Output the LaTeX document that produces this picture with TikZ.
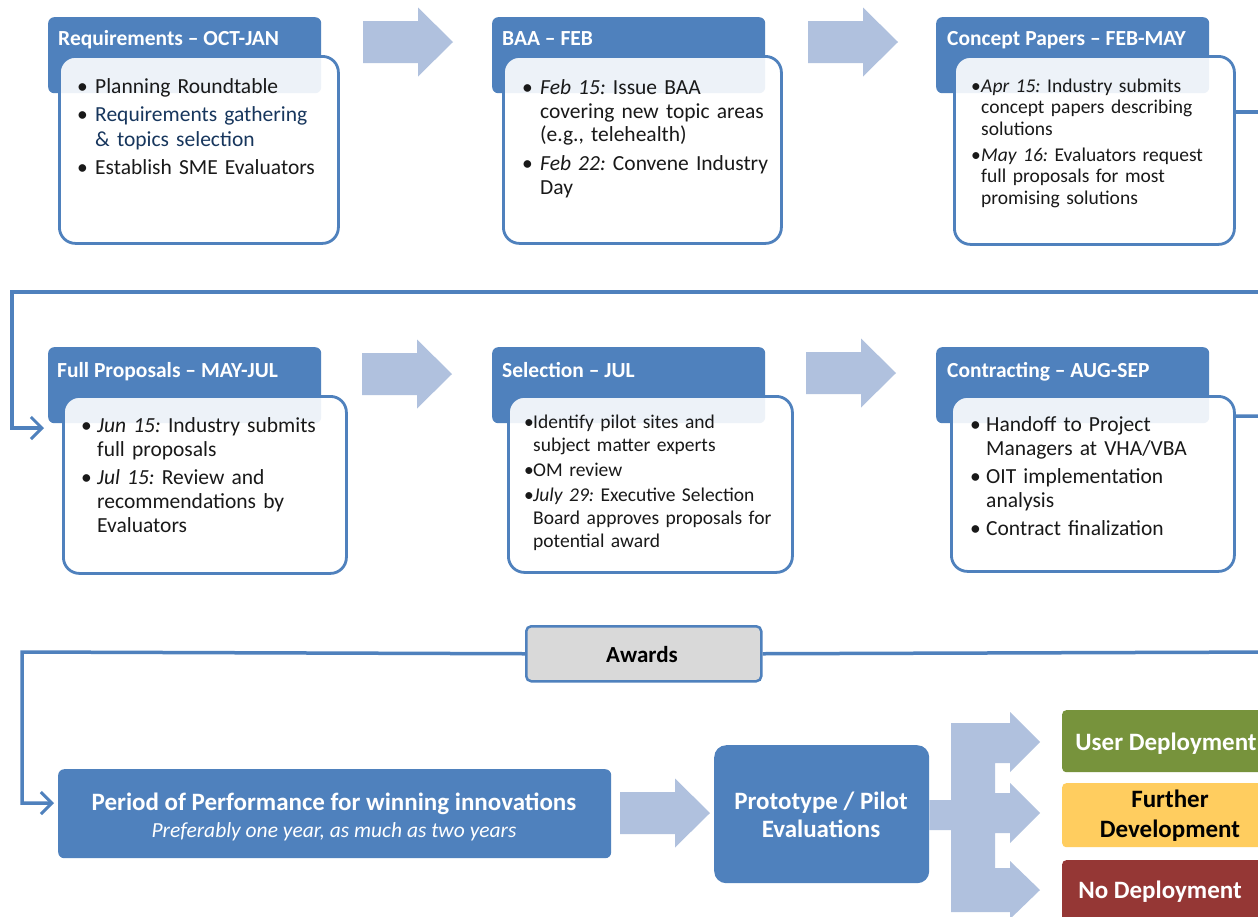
\documentclass[tikz,border=0pt]{standalone}
\usepackage{fontspec}
\setmainfont{Carlito}
\usetikzlibrary{arrows.meta,calc}
\definecolor{hblue}{RGB}{79,129,189}
\definecolor{lblue}{RGB}{176,193,222}
\definecolor{navy}{RGB}{23,54,93}
\definecolor{agray}{RGB}{217,217,217}
\definecolor{ogreen}{RGB}{119,147,60}
\definecolor{oyellow}{RGB}{255,205,95}
\definecolor{ored}{RGB}{149,55,53}
\definecolor{txt}{RGB}{25,25,25}
\newcommand\nl{\hfil\break}
\newcommand\bitem[2][18pt]{\par\hangindent=#1\hangafter=1\noindent\makebox[#1][l]{\strut\textbullet}#2}
\newcommand\barrow[2]{%
  \fill[lblue] (#1,{#2-21}) -- ({#1+55},{#2-21}) -- ({#1+55},{#2-34.5}) -- ({#1+90},#2)
    -- ({#1+55},{#2+34.5}) -- ({#1+55},{#2+21}) -- (#1,{#2+21}) -- cycle;}
\frenchspacing
\begin{document}
\begin{tikzpicture}[x=1pt,y=-1pt,
  hdr/.style={fill=hblue, rounded corners=6pt, minimum width=273pt, minimum height=76pt, anchor=north west, inner sep=0pt},
  hdrtext/.style={anchor=base west, text=white, font=\fontsize{21.5}{24}\selectfont\bfseries, inner sep=0pt},
  bodybox/.style={draw=hblue, line width=2.8pt, fill=white, fill opacity=0.9, rounded corners=16pt, anchor=north west, inner sep=0pt},
  btext/.style={anchor=north west, inner sep=0pt, text width=300pt, text=txt},
  bigfont/.style={font=\fontsize{21.5}{24}\selectfont\frenchspacing},
  smallfont/.style={font=\fontsize{19.5}{22}\selectfont\frenchspacing},
  conn/.style={draw=hblue, line width=3.5pt},
  tip/.style={-{Straight Barb[length=11pt,width=22pt,line width=3pt]}},
  solid box/.style={rounded corners=6pt, inner sep=0pt, anchor=north west},
  wtext/.style={text=white, font=\fontsize{25}{28}\selectfont\bfseries, inner sep=0pt, align=center},
]
\useasboundingbox (0,0) rectangle (1258,916);
\clip (0,0) rectangle (1258,916);
\fill[white] (0,0) rectangle (1258,916);

\coordinate (r1) at (1280,292);
\coordinate (r2) at (1280,652);

% ---------- row 1 ----------
\node[hdr] (h1) at (48,17) {};
\node[hdrtext] at (58,45) {Requirements \textendash{} OCT-JAN};
\node[bodybox, minimum width=279pt, minimum height=187pt] (b1) at (58,55) {};
\node[btext, bigfont] at (77,65) {\raggedright\setlength{\baselineskip}{25.5pt}\setlength{\parskip}{2.5pt}%
\bitem{Planning Roundtable}%
\bitem{{\color{navy}Requirements gathering\nl \& topics selection}}%
\bitem{Establish SME Evaluators}\par};

\barrow{363}{42}

\node[hdr] (h2) at (492,17) {};
\node[hdrtext] at (502,45) {BAA \textendash{} FEB};
\node[bodybox, minimum width=278pt, minimum height=187pt] (b2) at (502,55) {};
\node[btext, bigfont] at (522,65.5) {\raggedright\setlength{\baselineskip}{23.5pt}\setlength{\parskip}{5.5pt}%
\bitem{\textit{Feb 15:} Issue BAA\nl covering new topic areas\nl (e.g., telehealth)}%
\bitem{\textit{Feb 22:} Convene Industry\nl Day}\par};

\barrow{808}{42}

\node[hdr] (h3) at (936,17) {};
\node[hdrtext] at (947,45) {Concept Papers \textendash{} FEB-MAY};
\node[bodybox, minimum width=280pt, minimum height=188pt] (b3) at (953,55) {};
\node[btext, smallfont] at (971,66) {\raggedright\setlength{\baselineskip}{21.5pt}\setlength{\parskip}{4.5pt}%
\bitem[10pt]{\textit{Apr 15:} Industry submits\nl concept papers describing\nl solutions}%
\bitem[10pt]{\textit{May 16:} Evaluators request\nl full proposals for most\nl promising solutions}\par};

% ---------- row 2 ----------
\node[hdr] (h4) at (48,347) {};
\node[hdrtext] at (57,377) {Full Proposals \textendash{} MAY-JUL};
\node[bodybox, minimum width=283pt, minimum height=177pt] (b4) at (62,395) {};
\node[btext, bigfont] at (81,404) {\raggedright\setlength{\baselineskip}{24pt}\setlength{\parskip}{4pt}%
\bitem[16pt]{\textit{Jun 15:} Industry submits\nl full proposals}%
\bitem[16pt]{\textit{Jul 15:} Review and\nl recommendations by\nl Evaluators}\par};

\barrow{362}{374}

\node[hdr] (h5) at (492,347) {};
\node[hdrtext] at (502,377) {Selection \textendash{} JUL};
\node[bodybox, minimum width=284pt, minimum height=176pt] (b5) at (507,395) {};
\node[btext, smallfont] at (524,403) {\raggedright\setlength{\baselineskip}{23pt}\setlength{\parskip}{2pt}%
\bitem[9pt]{Identify pilot sites and\nl subject matter experts}%
\bitem[9pt]{OM review}%
\bitem[9pt]{\textit{July 29:} Executive Selection\nl Board approves proposals for\nl potential award}\par};

\barrow{806}{373}

\node[hdr] (h6) at (936,347) {};
\node[hdrtext] at (947,377) {Contracting \textendash{} AUG-SEP};
\node[bodybox, minimum width=283pt, minimum height=175pt] (b6) at (950,395) {};
\node[btext, bigfont] at (970,403) {\raggedright\setlength{\baselineskip}{24pt}\setlength{\parskip}{4pt}%
\bitem[16pt]{Handoff to Project\nl Managers at VHA/VBA}%
\bitem[16pt]{OIT implementation\nl analysis}%
\bitem[16pt]{Contract finalization}\par};

% ---------- bottom ----------
\node[solid box, draw=hblue, line width=2.5pt, fill=agray, rounded corners=5pt,
      minimum width=235pt, minimum height=55pt] (aw) at (525,625) {};
\node[inner sep=0pt, anchor=base, font=\fontsize{23}{26}\selectfont\bfseries, text=black] at (642,662) {Awards};

\node[solid box, fill=hblue, minimum width=553pt, minimum height=89pt] (pop) at (58,769) {};
\node[inner sep=0pt, anchor=base, text=white, font=\fontsize{25}{28}\selectfont\bfseries] at (334,810) {Period of Performance for winning innovations};
\node[inner sep=0pt, anchor=base, text=white, font=\fontsize{21.5}{24}\selectfont\itshape] at (334,837) {Preferably one year, as much as two years};

\barrow{620}{813}

\node[solid box, fill=hblue, rounded corners=12pt, minimum width=215pt, minimum height=138pt] (pp) at (714,745) {};
\node[wtext] at (821,815) {Prototype / Pilot\\ Evaluations};

% branching arrow
\fill[lblue] (pp.east |- 0,800) -- (951,800) -- (951,723) -- (1010,723) -- (1010,712) -- (1040,742)
  -- (1010,772) -- (1010,763) -- (995,763) -- (995,793) -- (1010,793) -- (1010,783) -- (1040,813)
  -- (1010,843) -- (1010,833) -- (995,833) -- (995,868) -- (1010,868) -- (1010,861) -- (1040,890)
  -- (1010,919) -- (1010,912) -- (951,912) -- (951,830) -- (pp.east |- 0,830) -- cycle;

\node[solid box, fill=ogreen, rounded corners=4pt, minimum width=225pt, minimum height=62pt] (ud) at (1062,710) {};
\node[inner sep=0pt, anchor=base, text=white, font=\fontsize{25}{28}\selectfont\bfseries] at (1166,750) {User Deployment};
\node[solid box, fill=oyellow, rounded corners=4pt, minimum width=225pt, minimum height=64pt] (fd) at (1062,783) {};
\node[inner sep=0pt, align=center, text=black, font=\fontsize{25}{30}\selectfont\bfseries] at (1170,816) {Further\\ Development};
\node[solid box, fill=ored, rounded corners=4pt, minimum width=225pt, minimum height=70pt] (nd) at (1062,860) {};
\node[inner sep=0pt, anchor=base, text=white, font=\fontsize{25}{28}\selectfont\bfseries] at (1160,898) {No Deployment};

% ---------- connectors ----------
\draw[conn, tip] (b3.east |- 0,112) -- (r1 |- 0,112) -- (r1) -- (12,292) |- ([xshift=-4pt]h4.west |- 0,428);
\draw[conn] (b6.east |- 0,416) -- (r2 |- 0,416) -- (r2) -- (aw.east);
\draw[conn, tip] (aw.west) -- (22,652) |- ([xshift=-4pt]pop.west |- 0,803);
\end{tikzpicture}
\end{document}
